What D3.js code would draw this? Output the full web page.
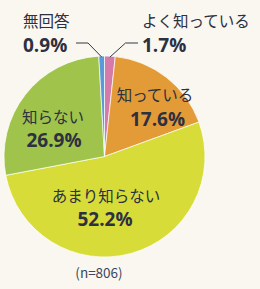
<!DOCTYPE html>
<html>
<head>
<meta charset="utf-8">
<script src="https://cdn.jsdelivr.net/npm/d3@7"></script>
<style>
  body { margin: 0; background: #faf7f0; }
  svg { display: block; }
</style>
</head>
<body>
<div id="chart"></div>
<script>
// answers, clockwise from 12 o'clock
var categories = ["よく知っている", "知っている", "あまり知らない", "知らない", "無回答"];
var values = [1.7, 17.6, 52.2, 26.9, 0.9];
var pctLabels = ["1.7%", "17.6%", "52.2%", "26.9%", "0.9%"];
var colors = ["#d67aa9", "#e39b37", "#d7dc38", "#9fc34b", "#5b9ad6"];
var sampleNote = "(n=806)";

var width = 260, height = 289;
var cx = 104.5, cy = 156.5, radius = 100.5;

// label placement: [x name, y name, x pct, y pct, anchor]
var labelPos = [
  [142, 27, 142, 52, "start"],
  [155, 101, 157.5, 126, "middle"],
  [106, 202, 105, 226, "middle"],
  [53, 123, 54, 147, "middle"],
  [23, 27, 23, 52, "start"]
];

var svg = d3.select("#chart")
  .append("svg")
    .attr("width", width)
    .attr("height", height);

svg.append("rect")
  .attr("width", width)
  .attr("height", height)
  .attr("fill", "#faf7f0");

var pie = d3.pie().sort(null).value(function(d) { return d; });
var arcs = pie(values);
var arc = d3.arc().innerRadius(0).outerRadius(radius);

var g = svg.append("g")
  .attr("transform", "translate(" + cx + "," + cy + ")");

g.selectAll("path")
  .data(arcs)
  .enter()
  .append("path")
    .attr("d", arc)
    .attr("fill", function(d, i) { return colors[i]; })
    .attr("stroke", "#ffffff")
    .attr("stroke-width", 0.7);

// leader lines for the two thin slices
var outer = d3.arc().innerRadius(radius - 1).outerRadius(radius - 1);
function leader(i, xEnd, xElbow) {
  var p = outer.centroid(arcs[i]);
  var px = cx + p[0], py = cy + p[1];
  svg.append("path")
    .attr("d", "M" + xEnd + ",43 L" + xElbow + ",43 L" + px + "," + py)
    .attr("fill", "none")
    .attr("stroke", "#333a45")
    .attr("stroke-width", 1);
}
leader(0, 138, 125.5);
leader(4, 76, 88);

var labels = svg.append("g");
categories.forEach(function(c, i) {
  var lp = labelPos[i];
  labels.append("text")
    .attr("x", lp[0])
    .attr("y", lp[1])
    .attr("text-anchor", lp[4])
    .attr("font-family", "'Noto Sans CJK JP', sans-serif")
    .attr("font-size", "15.5px")
    .attr("fill", "#2c3040")
    .text(c);
  labels.append("text")
    .attr("x", lp[2])
    .attr("y", lp[3])
    .attr("text-anchor", lp[4])
    .attr("font-family", "'Open Sans', 'Noto Sans', sans-serif")
    .attr("font-weight", "bold")
    .attr("font-size", "19px")
    .attr("fill", "#2c3040")
    .text(pctLabels[i]);
});

svg.append("text")
  .attr("x", 99)
  .attr("y", 277.5)
  .attr("text-anchor", "middle")
  .attr("font-family", "'Noto Sans CJK JP', sans-serif")
  .attr("font-size", "13.5px")
  .attr("fill", "#3c4660")
  .text(sampleNote);
</script>
</body>
</html>
